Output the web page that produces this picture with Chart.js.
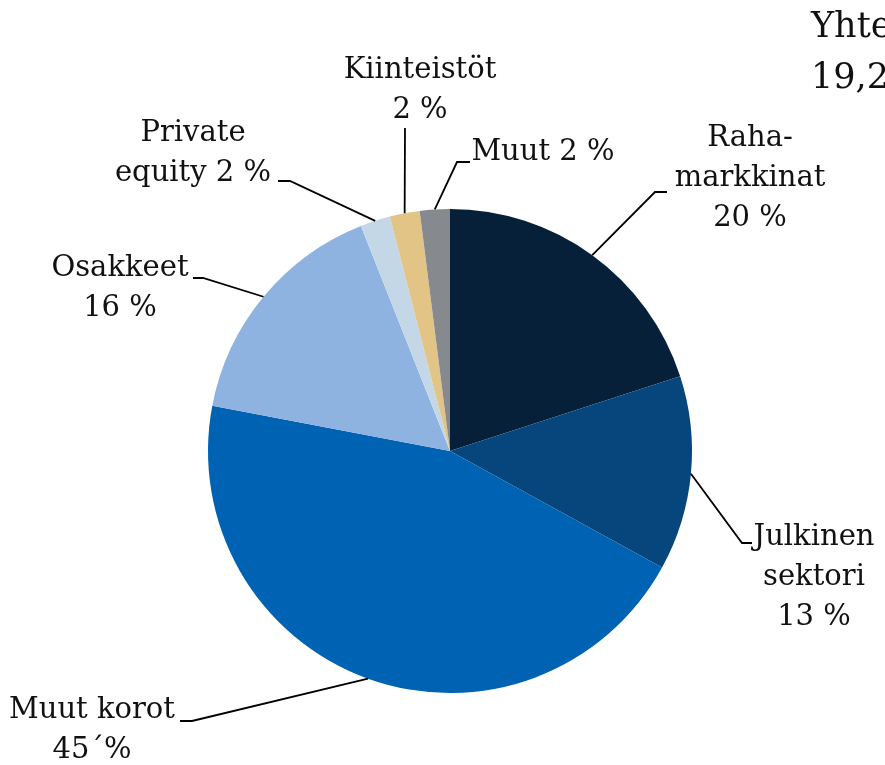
<!DOCTYPE html>
<html>
<head>
<meta charset="utf-8">
<script src="https://cdn.jsdelivr.net/npm/chart.js@4.4.1/dist/chart.umd.min.js"></script>
<style>
  body { margin: 0; background: #fff; overflow: hidden; }
  canvas { display: block; }
</style>
</head>
<body>
<canvas id="pieChart" width="885" height="765"></canvas>
<script>
// data
let categories = ['Rahamarkkinat', 'Julkinen sektori', 'Muut korot', 'Osakkeet', 'Private equity', 'Kiinteistöt', 'Muut'];
let shares = [20, 13, 45, 16, 2, 2, 2];
let labelLines = [
  ['Raha-', 'markkinat', '20 %'],
  ['Julkinen', 'sektori', '13 %'],
  ['Muut korot', '45´%'],
  ['Osakkeet', '16 %'],
  ['Private', 'equity 2 %'],
  ['Kiinteistöt', '2 %'],
  ['Muut 2 %']
];
let titleLines = ['Yhteensä', '19,2 mrd. €'];

let sliceColors = ['#062039', '#07467d', '#0062b3', '#8eb3e1', '#c4d7e7', '#e2c486', '#86898e'];

const FONT = '"DejaVu Serif", serif';

// label placement: elbow, end of leader, text centre, first line y
let labelLayout = [
  { elbow: [655, 192], end: [667, 192], x: 750, y: 138 },
  { elbow: [742, 543], end: [752, 543], x: 814, y: 537 },
  { elbow: [192, 721], end: [180, 721], x: 92, y: 710 },
  { elbow: [203, 278], end: [193, 278], x: 120, y: 268 },
  { elbow: [290, 181], end: [278, 181], x: 193, y: 133 },
  { elbow: [405, 128], end: [405, 128], x: 420, y: 70 },
  { elbow: [457, 162], end: [470, 162], x: 543, y: 152 }
];

// leader lines + labels
let labelPlugin = {
  id: 'pieLabels',
  afterDatasetsDraw(chart) {
    let ctx = chart.ctx;
    let arcs = chart.getDatasetMeta(0).data;
    ctx.save();
    ctx.strokeStyle = '#000';
    ctx.lineWidth = 1.8;
    arcs.forEach((arc, i) => {
      let p = arc.getProps(['x', 'y', 'startAngle', 'endAngle', 'outerRadius'], true);
      let mid = (p.startAngle + p.endAngle) / 2;
      let sx = p.x + Math.cos(mid) * p.outerRadius;
      let sy = p.y + Math.sin(mid) * p.outerRadius;
      let l = labelLayout[i];
      ctx.beginPath();
      ctx.moveTo(sx, sy);
      ctx.lineTo(l.elbow[0], l.elbow[1]);
      ctx.lineTo(l.end[0], l.end[1]);
      ctx.stroke();
    });
    ctx.fillStyle = '#111';
    ctx.font = '29px ' + FONT;
    ctx.textAlign = 'center';
    ctx.textBaseline = 'middle';
    labelLines.forEach((lines, i) => {
      let l = labelLayout[i];
      lines.forEach((t, j) => ctx.fillText(t, l.x, l.y + j * 40));
    });
    ctx.font = '35px ' + FONT;
    ctx.textAlign = 'left';
    titleLines.forEach((t, j) => ctx.fillText(t, 811, 28 + j * 51));
    ctx.restore();
  }
};

let pieConfig = {
  type: 'pie',
  data: {
    labels: categories,
    datasets: [{
      data: shares,
      backgroundColor: sliceColors,
      borderWidth: 0
    }]
  },
  options: {
    responsive: false,
    animation: false,
    plugins: {
      legend: { display: false },
      tooltip: { enabled: false }
    },
    layout: {
      padding: { left: 208, right: 193, top: 209, bottom: 72 }
    }
  },
  plugins: [labelPlugin]
};

let pieChart = new Chart(document.getElementById('pieChart'), pieConfig);
</script>
</body>
</html>
